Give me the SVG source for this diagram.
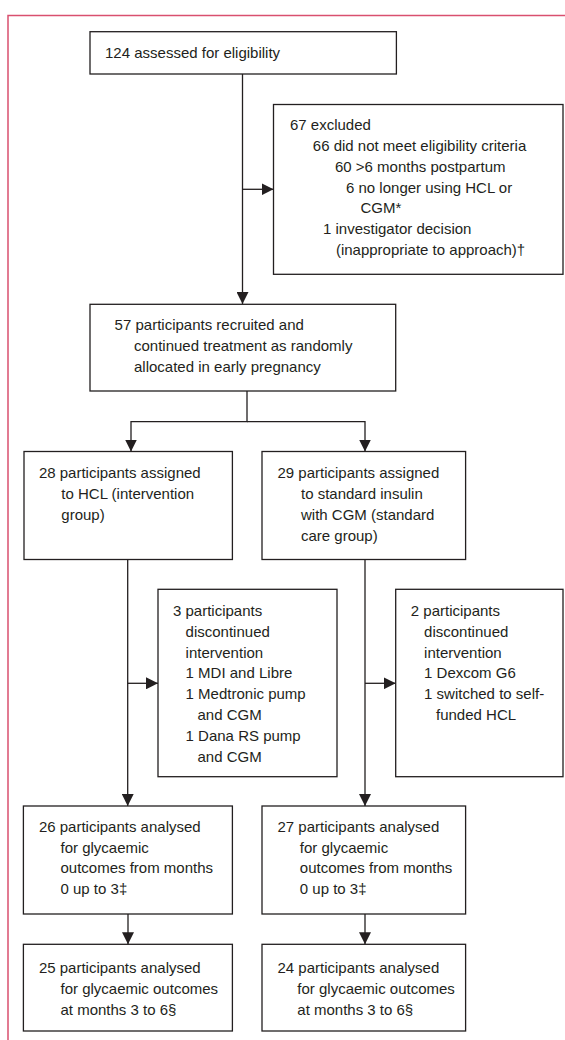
<svg xmlns="http://www.w3.org/2000/svg" width="565" height="1040" viewBox="0 0 565 1040">
<style>
.box{fill:#fff;stroke:#231f20;stroke-width:1.3}
.t{font-family:"Liberation Sans",Arial,sans-serif;font-size:15px;fill:#231f20}
.c{fill:none;stroke:#231f20;stroke-width:1.3}
</style>
<defs>
<marker id="ah" viewBox="0 0 12 12" refX="12" refY="6" markerWidth="12" markerHeight="12" markerUnits="userSpaceOnUse" orient="auto">
<path d="M0,0 L12,6 L0,12 z" fill="#231f20"/>
</marker>
</defs>
<rect width="565" height="1040" fill="#fff"/>
<path d="M8,1040 V15.5 H565" fill="none" stroke="#d9506f" stroke-width="1.5"/>

<g id="connectors">
<path class="c" d="M242.5,74 V304" marker-end="url(#ah)"/>
<path class="c" d="M242.5,189.3 H273.5" marker-end="url(#ah)"/>
<path class="c" d="M247,391 V421.7 H131 V451.5" marker-end="url(#ah)"/>
<path class="c" d="M247,421.7 H365 V451.5" marker-end="url(#ah)"/>
<path class="c" d="M127.7,559.5 V806" marker-end="url(#ah)"/>
<path class="c" d="M127.7,683.3 H158" marker-end="url(#ah)"/>
<path class="c" d="M365,559.5 V806" marker-end="url(#ah)"/>
<path class="c" d="M365,683.3 H395.7" marker-end="url(#ah)"/>
<path class="c" d="M128,914 V944.3" marker-end="url(#ah)"/>
<path class="c" d="M365,914 V944.3" marker-end="url(#ah)"/>
</g>

<g id="assessed">
<rect class="box" x="90" y="31.7" width="306.4" height="42.3"/>
<text class="t" x="105" y="58.3">124 assessed for eligibility</text>
</g>

<g id="excluded">
<rect class="box" x="273.5" y="104.5" width="289.5" height="169.8"/>
<text class="t" x="290" y="130">67 excluded</text>
<text class="t" x="312.8" y="150.8">66 did not meet eligibility criteria</text>
<text class="t" x="335" y="171.7">60 &gt;6 months postpartum</text>
<text class="t" x="346" y="192.6">6 no longer using HCL or</text>
<text class="t" x="360.4" y="213.4">CGM*</text>
<text class="t" x="323" y="234.2">1 investigator decision</text>
<text class="t" x="335.9" y="255">(inappropriate to approach)†</text>
</g>

<g id="recruited">
<rect class="box" x="90" y="304.3" width="305.7" height="86.7"/>
<text class="t" x="114.6" y="330">57 participants recruited and</text>
<text class="t" x="134" y="350.8">continued treatment as randomly</text>
<text class="t" x="134" y="371.7">allocated in early pregnancy</text>
</g>

<g id="hcl">
<rect class="box" x="24" y="451.5" width="208.4" height="108"/>
<text class="t" x="38.9" y="478.3">28 participants assigned</text>
<text class="t" x="61.3" y="499.1">to HCL (intervention</text>
<text class="t" x="61.3" y="520">group)</text>
</g>

<g id="standard">
<rect class="box" x="262" y="451.5" width="203.6" height="108"/>
<text class="t" x="277.5" y="478.3">29 participants assigned</text>
<text class="t" x="301" y="499.1">to standard insulin</text>
<text class="t" x="301" y="520">with CGM (standard</text>
<text class="t" x="301" y="540.8">care group)</text>
</g>

<g id="disc-hcl">
<rect class="box" x="158" y="589.3" width="179" height="187.4"/>
<text class="t" x="173" y="616">3 participants</text>
<text class="t" x="185.6" y="636.8">discontinued</text>
<text class="t" x="185.6" y="657.6">intervention</text>
<text class="t" x="185.6" y="678.4">1 MDI and Libre</text>
<text class="t" x="185.6" y="699.2">1 Medtronic pump</text>
<text class="t" x="197.5" y="720">and CGM</text>
<text class="t" x="185.6" y="740.8">1 Dana RS pump</text>
<text class="t" x="197.5" y="761.6">and CGM</text>
</g>

<g id="disc-std">
<rect class="box" x="395.7" y="589.3" width="167.3" height="187.4"/>
<text class="t" x="410.8" y="616">2 participants</text>
<text class="t" x="424.1" y="636.8">discontinued</text>
<text class="t" x="424.1" y="657.6">intervention</text>
<text class="t" x="424.1" y="678.4">1 Dexcom G6</text>
<text class="t" x="424.1" y="699.2">1 switched to self-</text>
<text class="t" x="436" y="720">funded HCL</text>
</g>

<g id="hcl-0-3">
<rect class="box" x="23.4" y="806" width="209" height="108"/>
<text class="t" x="38.9" y="831.7">26 participants analysed</text>
<text class="t" x="60.5" y="852.5">for glycaemic</text>
<text class="t" x="60.5" y="873.3">outcomes from months</text>
<text class="t" x="60.5" y="894.1">0 up to 3‡</text>
</g>

<g id="std-0-3">
<rect class="box" x="262" y="806" width="203.6" height="108"/>
<text class="t" x="277.5" y="831.7">27 participants analysed</text>
<text class="t" x="299.8" y="852.5">for glycaemic</text>
<text class="t" x="299.8" y="873.3">outcomes from months</text>
<text class="t" x="299.8" y="894.1">0 up to 3‡</text>
</g>

<g id="hcl-3-6">
<rect class="box" x="23.4" y="944.3" width="209" height="86.7"/>
<text class="t" x="38.9" y="973.3">25 participants analysed</text>
<text class="t" x="60.5" y="994.1">for glycaemic outcomes</text>
<text class="t" x="60.5" y="1014.9">at months 3 to 6§</text>
</g>

<g id="std-3-6">
<rect class="box" x="262" y="944.3" width="203.6" height="86.7"/>
<text class="t" x="277.5" y="973.3">24 participants analysed</text>
<text class="t" x="297.3" y="994.1">for glycaemic outcomes</text>
<text class="t" x="297.3" y="1014.9">at months 3 to 6§</text>
</g>
</svg>
